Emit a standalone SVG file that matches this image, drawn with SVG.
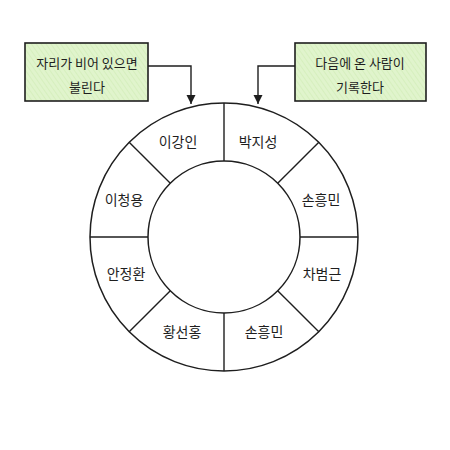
<svg xmlns="http://www.w3.org/2000/svg" width="450" height="450" viewBox="0 0 450 450">
<defs>
<style>
.note{fill:#d9f1c2;stroke:#1e1e1e;stroke-width:1.6}
.ring{fill:none;stroke:#1e1e1e;stroke-width:1.5}
.div{stroke:#1e1e1e;stroke-width:1.4}
.conn{fill:none;stroke:#1e1e1e;stroke-width:1.4}
text{font-family:"Noto Sans CJK KR","Noto Sans",sans-serif;fill:#1e1e1e;text-anchor:middle;dominant-baseline:central}
.n{font-size:14px}
.t{font-size:13px}
</style>
<pattern id="hatch" width="4" height="4" patternUnits="userSpaceOnUse" patternTransform="rotate(-35)">
<rect width="4" height="4" fill="#e0f4cc"/>
<line x1="0" y1="0" x2="0" y2="4" stroke="#cdebb0" stroke-width="1"/>
</pattern>
<marker id="ah" markerWidth="10" markerHeight="10" refX="9" refY="4.5" orient="auto" markerUnits="userSpaceOnUse">
<path d="M0,0 L9,4.5 L0,9 Z" fill="#1e1e1e"/>
</marker>
</defs>
<rect width="450" height="450" fill="#ffffff"/>
<g id="ring">
<circle class="ring" cx="224" cy="237" r="134"/>
<circle class="ring" cx="224" cy="237" r="76"/>
<line class="div" x1="224" y1="103" x2="224" y2="161"/>
<line class="div" x1="224" y1="313" x2="224" y2="371"/>
<line class="div" x1="90" y1="237" x2="148" y2="237"/>
<line class="div" x1="300" y1="237" x2="358" y2="237"/>
<line class="div" x1="129.2" y1="142.2" x2="170.3" y2="183.3"/>
<line class="div" x1="318.8" y1="142.2" x2="277.7" y2="183.3"/>
<line class="div" x1="129.2" y1="331.8" x2="170.3" y2="290.7"/>
<line class="div" x1="318.8" y1="331.8" x2="277.7" y2="290.7"/>
</g>
<g id="seat1"><text class="n" x="178" y="141">이강인</text></g>
<g id="seat2"><text class="n" x="258" y="141">박지성</text></g>
<g id="seat3"><text class="n" x="321" y="199">손흥민</text></g>
<g id="seat4"><text class="n" x="322" y="273">차범근</text></g>
<g id="seat5"><text class="n" x="264" y="331">손흥민</text></g>
<g id="seat6"><text class="n" x="182" y="331">황선홍</text></g>
<g id="seat7"><text class="n" x="126" y="273">안정환</text></g>
<g id="seat8"><text class="n" x="124" y="199">이청용</text></g>
<g id="note1">
<rect class="note" x="25" y="43" width="123" height="58" style="fill:url(#hatch)"/>
<text class="t" x="87" y="62">자리가 비어 있으면</text>
<text class="t" x="87" y="86">불린다</text>
</g>
<g id="note2">
<rect class="note" x="295" y="43" width="131" height="58" style="fill:url(#hatch)"/>
<text class="t" x="360" y="62">다음에 온 사람이</text>
<text class="t" x="360" y="86">기록한다</text>
</g>
<g id="connectors">
<path class="conn" d="M148,66 H191 V104" marker-end="url(#ah)"/>
<path class="conn" d="M295,66 H258 V104" marker-end="url(#ah)"/>
</g>
</svg>
